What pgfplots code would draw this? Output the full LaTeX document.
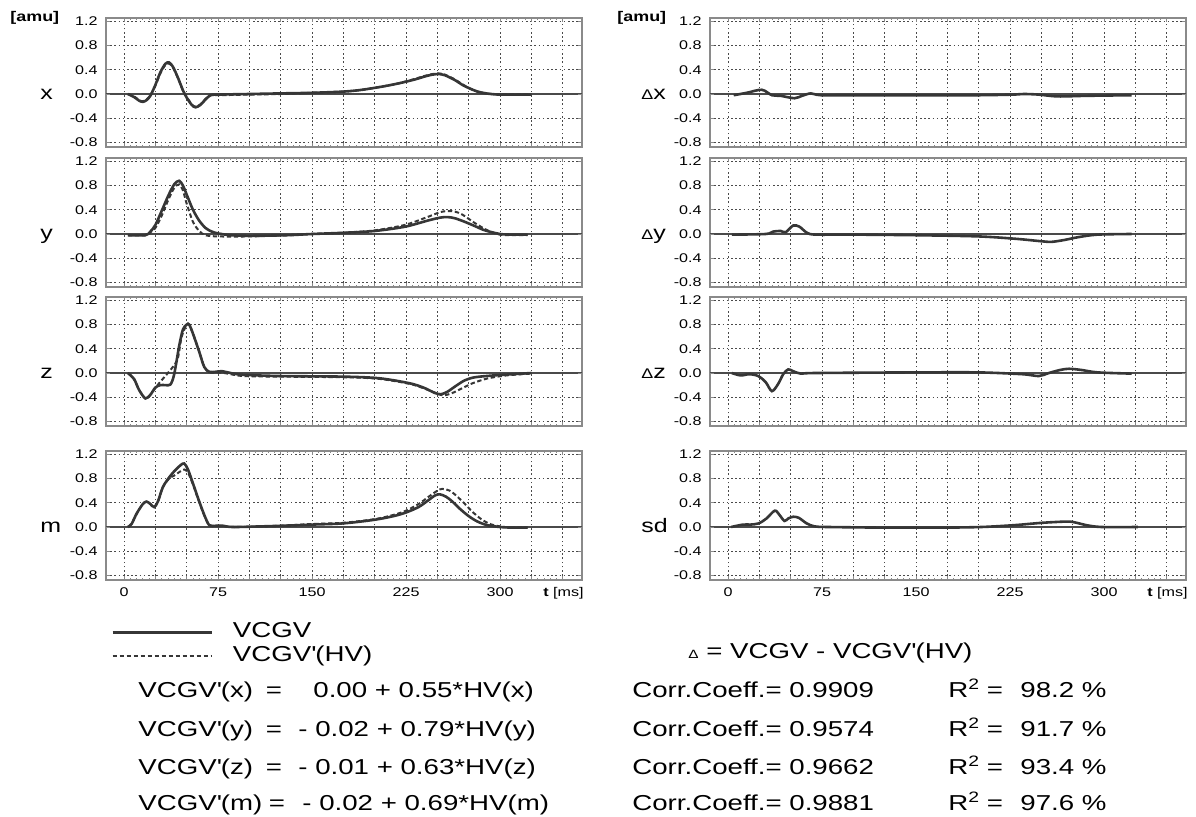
\documentclass[border=0pt]{standalone}
\usepackage{fontspec}
\setmainfont{Liberation Sans}[FakeStretch=1.28]
\usepackage{pgfplots}
\pgfplotsset{compat=1.18}
\definecolor{lc}{HTML}{363636}
\definecolor{gc}{HTML}{4A4A4A}
\definecolor{fc}{HTML}{8A8A8A}
\newcommand\q{\textquotesingle}
\newcommand\tl{\fontsize{6.3}{7}\selectfont}
\newcommand\bt{\fontsize{10.8}{13}\selectfont}
\newcommand\pl{\fontsize{9.75}{11}\selectfont}

\pgfplotsset{
  panel/.style={
    scale only axis, width=238pt, height=64.5pt,
    xmin=-14.4, xmax=365.4, ymin=-0.876, ymax=1.256,
    xtick={0,25,...,350}, xticklabels={},
    ytick={-0.8,-0.4,0.4,0.8,1.2},
    extra y ticks={0},
    extra y tick style={major grid style={solid, draw=gc, line width=0.6pt}},
    minor x tick num=4, minor y tick num=3,
    tick align=inside, major tick length=2pt, minor tick length=1.2pt,
    grid=major, major grid style={dash pattern=on 0.8pt off 1.3pt, draw=gc, line width=0.5pt},
    axis line style={draw=fc, line width=0.9pt},
    tick style={draw=fc, line width=0.4pt},
    /pgf/number format/fixed, /pgf/number format/fixed zerofill,
    /pgf/number format/precision=1, /pgf/number format/assume math mode=true,
    yticklabel style={font=\tl, inner sep=0pt, xshift=-4pt},
    xticklabel style={font=\tl, inner sep=0pt, yshift=-3.7pt},
  },
  bottom/.style={
    xticklabels={0,,,75,,,150,,,225,,,300,,},
    xlabel={\textbf{t} [ms]},
    xlabel style={at={(rel axis cs:1,0)}, anchor=north east, inner sep=0pt,
      yshift=-3.7pt, xshift=1pt, font=\tl},
  },
  vc/.style={draw=lc, line width=1.3pt, smooth, mark=none},
  hv/.style={draw=lc, line width=1.0pt, dash pattern=on 2.2pt off 1.3pt, smooth, mark=none},
}

\begin{document}
\begin{tikzpicture}
\begin{scope}[x=0.5pt,y=-0.5pt]
\path[use as bounding box] (0,0) rectangle (1196,816);
\end{scope}

% left column
\begin{axis}[panel, at={(53pt,-73.5pt)}, anchor=south west]
\addplot[vc] coordinates {(3,0.0)(8,-0.05)(12,-0.11)(15,-0.13)(18,-0.10)(21,-0.03)(25,0.15)(29,0.36)(33,0.50)(36,0.52)(39,0.45)(43,0.27)(47,0.06)(50,-0.06)(54,-0.18)(57,-0.22)(61,-0.18)(65,-0.09)(69,-0.02)(75,-0.01)(100,0.0)(125,0.01)(150,0.02)(175,0.04)(190,0.07)(208,0.13)(220,0.18)(232,0.24)(240,0.29)(246,0.32)(251,0.33)(256,0.31)(264,0.23)(270,0.15)(276,0.09)(282,0.04)(289,0.01)(300,-0.01)(325,-0.01)};
\addplot[hv] coordinates {(3,0.0)(8,-0.04)(12,-0.10)(15,-0.12)(18,-0.09)(21,-0.02)(25,0.14)(29,0.34)(33,0.48)(36,0.50)(39,0.44)(43,0.26)(47,0.06)(50,-0.05)(54,-0.17)(57,-0.21)(61,-0.17)(65,-0.08)(69,-0.02)(75,-0.02)(100,-0.01)(125,0.0)(150,0.02)(175,0.04)(190,0.07)(208,0.13)(220,0.18)(232,0.25)(240,0.30)(246,0.33)(251,0.34)(256,0.32)(264,0.24)(270,0.16)(276,0.09)(282,0.04)(289,0.01)(300,-0.01)(325,-0.01)};
\end{axis}

\begin{axis}[panel, at={(53pt,-143.5pt)}, anchor=south west]
\addplot[vc] coordinates {(3,-0.02)(17,-0.02)(21,0.04)(25,0.15)(30,0.38)(35,0.62)(40,0.82)(44,0.88)(47,0.80)(50,0.65)(55,0.40)(60,0.22)(65,0.10)(70,0.04)(75,0.01)(85,-0.02)(100,-0.03)(130,-0.02)(150,0.0)(175,0.02)(200,0.05)(224,0.12)(242,0.22)(252,0.27)(258,0.28)(264,0.26)(272,0.20)(280,0.13)(288,0.06)(300,0.0)(310,-0.01)(322,-0.01)};
\addplot[hv] coordinates {(3,-0.02)(17,-0.02)(21,0.03)(25,0.10)(30,0.30)(35,0.55)(40,0.76)(44,0.82)(47,0.72)(50,0.50)(55,0.20)(60,0.05)(65,-0.02)(75,-0.04)(100,-0.04)(130,-0.02)(150,0.0)(175,0.02)(200,0.06)(224,0.15)(242,0.28)(252,0.36)(258,0.38)(264,0.37)(270,0.32)(280,0.18)(290,0.06)(300,-0.01)(310,-0.02)(322,-0.02)};
\end{axis}

\begin{axis}[panel, at={(53pt,-213pt)}, anchor=south west]
\addplot[vc] coordinates {(3,0.0)(8,-0.10)(12,-0.28)(17,-0.42)(21,-0.36)(25,-0.24)(29,-0.20)(33,-0.20)(37,-0.19)(40,-0.02)(44,0.45)(47,0.72)(50,0.80)(52,0.80)(55,0.65)(60,0.35)(64,0.10)(68,0.02)(73,0.02)(78,0.03)(85,0.0)(95,-0.03)(125,-0.05)(175,-0.06)(200,-0.08)(215,-0.12)(230,-0.18)(240,-0.25)(248,-0.33)(253,-0.35)(258,-0.31)(265,-0.21)(272,-0.12)(280,-0.07)(295,-0.04)(310,-0.02)(325,0.0)};
\addplot[hv] coordinates {(3,0.0)(8,-0.10)(12,-0.28)(17,-0.42)(21,-0.36)(26,-0.22)(30,-0.12)(35,0.0)(40,0.13)(43,0.25)(46,0.60)(50,0.80)(52,0.80)(55,0.65)(60,0.35)(64,0.10)(68,0.01)(73,0.01)(80,0.0)(95,-0.05)(125,-0.06)(175,-0.07)(200,-0.09)(215,-0.13)(230,-0.19)(240,-0.26)(250,-0.34)(255,-0.37)(262,-0.33)(270,-0.25)(278,-0.17)(290,-0.09)(305,-0.04)(325,-0.01)};
\end{axis}

\begin{axis}[panel, bottom, at={(53pt,-290pt)}, anchor=south west,
  legend style={at={(axis description cs:0.0105,-0.325)}, anchor=north west,
    draw=none, fill=none, inner sep=0pt, row sep=2pt, column sep=10pt,
    nodes={inner sep=0pt, text height=7.8pt, text depth=2.2pt}, font=\bt},
  legend cell align=left,
  legend image code/.code={\path[draw=none] (0pt,0pt) -- (0pt,3.5pt); \draw[#1] (0pt,0pt) -- (49.5pt,0pt);}]
\addplot[vc] coordinates {(3,0.0)(6,0.05)(10,0.22)(15,0.38)(18,0.42)(21,0.38)(24,0.33)(27,0.42)(31,0.66)(36,0.82)(40,0.92)(45,1.02)(48,1.05)(51,0.95)(55,0.72)(59.5,0.45)(64,0.20)(68,0.03)(73,0.02)(79,0.02)(88,0.0)(125,0.02)(150,0.04)(175,0.06)(200,0.12)(215,0.18)(225,0.24)(235,0.33)(242,0.43)(248,0.52)(252,0.54)(257,0.50)(262,0.42)(268,0.30)(275,0.18)(282,0.09)(290,0.03)(300,0.0)(310,-0.01)(322,-0.01)};
\addlegendentry{VCGV}
\addplot[hv] coordinates {(3,0.0)(6,0.05)(10,0.22)(15,0.38)(18,0.42)(21,0.38)(24,0.33)(27,0.42)(31,0.66)(36,0.80)(40,0.85)(45,0.92)(48,0.95)(51,0.90)(55,0.70)(59.5,0.44)(64,0.19)(68,0.03)(73,0.02)(79,0.02)(88,0.0)(125,0.02)(150,0.05)(175,0.07)(200,0.13)(215,0.20)(225,0.27)(235,0.38)(243,0.50)(250,0.60)(254,0.63)(260,0.60)(266,0.50)(272,0.38)(278,0.25)(285,0.13)(292,0.05)(300,0.01)(310,-0.01)(322,-0.01)};
\addlegendentry{VCGV\q(HV)}
\end{axis}

% right column
\begin{axis}[panel, at={(355pt,-73.5pt)}, anchor=south west]
\addplot[vc] coordinates {(4.5,-0.02)(15,0.02)(27,0.07)(35,-0.02)(42,-0.03)(53,-0.07)(59,-0.03)(66,0.01)(74,-0.02)(100,-0.02)(150,-0.02)(200,-0.02)(227,-0.01)(236,0.0)(248,-0.01)(263,-0.04)(286,-0.03)(322,-0.02)};
\end{axis}

\begin{axis}[panel, at={(355pt,-143.5pt)}, anchor=south west]
\addplot[vc] coordinates {(3,-0.01)(30,0.0)(36,0.04)(42,0.05)(46,0.03)(52,0.14)(57,0.12)(63,0.02)(70,-0.01)(100,-0.01)(150,-0.02)(200,-0.04)(230,-0.08)(250,-0.12)(258,-0.13)(268,-0.10)(280,-0.05)(295,-0.01)(322,0.0)};
\end{axis}

\begin{axis}[panel, at={(355pt,-213pt)}, anchor=south west]
\addplot[vc] coordinates {(3,0.0)(10,-0.04)(17,-0.02)(24,-0.05)(30,-0.15)(35,-0.30)(40,-0.18)(44,-0.02)(48,0.06)(52,0.03)(58,-0.01)(70,0.0)(150,0.01)(200,0.01)(235,-0.02)(248,-0.05)(256,0.0)(265,0.05)(272,0.07)(282,0.05)(295,0.01)(322,-0.01)};
\end{axis}

\begin{axis}[panel, bottom, at={(355pt,-290pt)}, anchor=south west]
\addplot[vc] coordinates {(2.4,0.0)(12,0.04)(18,0.04)(24.5,0.06)(30.6,0.14)(37.3,0.27)(41,0.20)(45,0.10)(48,0.14)(52,0.17)(56.6,0.15)(62.7,0.06)(69,0.01)(80,0.0)(125,-0.01)(171,-0.01)(202,0.0)(228,0.03)(251,0.07)(271,0.09)(278,0.07)(286,0.03)(298,0.0)(327,0.0)};
\end{axis}

% labels and statistics
\begin{scope}[x=0.5pt,y=-0.5pt]
\node[anchor=west, inner sep=0pt, font=\fontsize{7}{8}\selectfont\bfseries] at (10,18) {[amu]};
\node[anchor=west, inner sep=0pt, font=\fontsize{7}{8}\selectfont\bfseries] at (617,18) {[amu]};
\foreach \lab/\yy in {x/99, y/239, z/378, m/532}
  \node[anchor=base west, inner sep=0pt, font=\pl] at (40,\yy) {\lab};
\foreach \lab/\yy in {x/99, y/239, z/378}
  \node[anchor=base west, inner sep=0pt, font=\pl] at (641,\yy) {{\fontsize{7}{8}\selectfont Δ}\lab};
\node[anchor=base west, inner sep=0pt, font=\pl] at (641,532) {sd};

\foreach \v/\a/\e/\r/\yy in {x/274/313/{0.00 + 0.55*HV(x)}/697, y/274/298/{- 0.02 + 0.79*HV(y)}/736, z/274/298/{- 0.01 + 0.63*HV(z)}/774, m/277/302/{- 0.02 + 0.69*HV(m)}/810}{
  \node[anchor=base west, inner sep=0pt, font=\bt] at (138,\yy) {VCGV\q(\v)};
  \node[anchor=base, inner sep=0pt, font=\bt] at (\a,\yy) {=};
  \node[anchor=base west, inner sep=0pt, font=\bt] at (\e,\yy) {\r};
}
\node[anchor=base west, inner sep=0pt, font=\bt] at (688,658) {{\fontsize{6}{7}\selectfont Δ} = VCGV - VCGV\q(HV)};
\foreach \c/\p/\yy in {0.9909/98.2/697, 0.9574/91.7/736, 0.9662/93.4/774, 0.9881/97.6/810}{
  \node[anchor=base west, inner sep=0pt, font=\bt] at (632,\yy) {Corr.Coeff.= \c};
  \node[anchor=base west, inner sep=0pt, font=\bt] at (948,\yy) {R\textsuperscript{2}};
  \node[anchor=base, inner sep=0pt, font=\bt] at (995,\yy) {=};
  \node[anchor=base west, inner sep=0pt, font=\bt] at (1020,\yy) {\p\ \%};
}
\end{scope}
\end{tikzpicture}
\end{document}
